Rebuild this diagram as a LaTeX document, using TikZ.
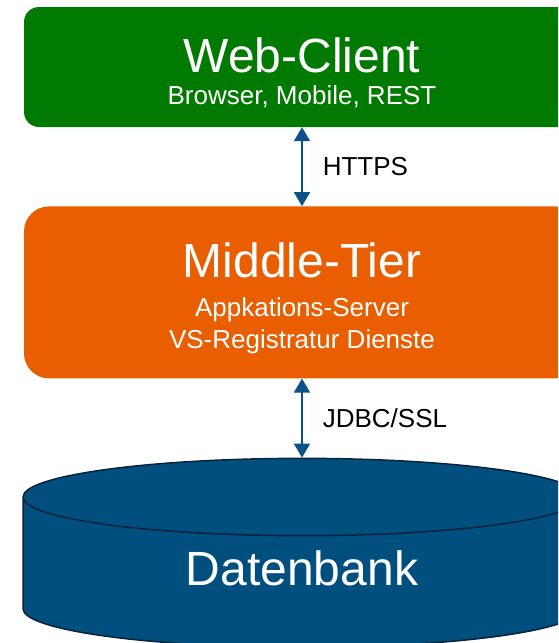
\documentclass[tikz,border=0pt]{standalone}
\usepackage{fontspec}
\setmainfont{Liberation Sans}
\usepackage{tikz}
\usetikzlibrary{shapes.geometric, arrows.meta, positioning}

\definecolor{clientgreen}{RGB}{0,122,0}
\definecolor{tierorange}{RGB}{232,94,0}
\definecolor{dbblue}{RGB}{0,79,127}
\definecolor{dbedge}{RGB}{10,35,60}
\definecolor{linkblue}{RGB}{11,82,136}

\newcommand{\bigtxt}{\fontsize{48}{54}\selectfont}
\newcommand{\smalltxt}{\fontsize{26}{32}\selectfont}
\newcommand{\topstrut}{\rule{0pt}{46pt}}

\begin{document}
\begin{tikzpicture}[
	x=1pt, y=1pt,
	node distance=79pt,
	tier/.style = {shape=rectangle, draw=none, text=white, align=center, minimum width=556pt, inner sep=0pt, font=\smalltxt},
	dbase/.style = {cylinder, shape border rotate=90, aspect=0.333, minimum width=558pt, minimum height=189pt, inner sep=0pt, draw=dbedge, line width=1.5pt, fill=dbblue, text=white, font=\bigtxt},
	link/.style = {draw=linkblue, line width=1.6pt, {Triangle[length=14pt,width=16pt]}-{Triangle[length=14pt,width=16pt]}},
	lbl/.style = {shape=rectangle, draw=none, inner sep=0pt, font=\smalltxt, text=black, anchor=west},
	]
\useasboundingbox (0,0) rectangle (558,-643);
\clip (0,0) rectangle (558,-643);
% tiers, from top to bottom
\node[tier, fill=clientgreen, rounded corners=15pt, minimum height=120pt] (client) at (302,-67)
	{{\bigtxt\topstrut Web-Client}\\ Browser, Mobile, REST};
\node[tier, fill=tierorange, rounded corners=25pt, minimum height=172pt] (middle) [below=79pt of client]
	{{\bigtxt\topstrut Middle-Tier}\\[7pt] Appkations-Server\\ VS-Registratur Dienste};
\node[dbase] (db) [below=79pt of middle] {\rule[-8pt]{0pt}{0pt}Datenbank};
% connections
\draw[link] (client.south) -- node[lbl, right=20pt] (https) {HTTPS} (middle.north);
\draw[link] (middle.south) -- node[lbl, right=20pt] (jdbc) {JDBC/SSL} (db.north);
\end{tikzpicture}
\end{document}
